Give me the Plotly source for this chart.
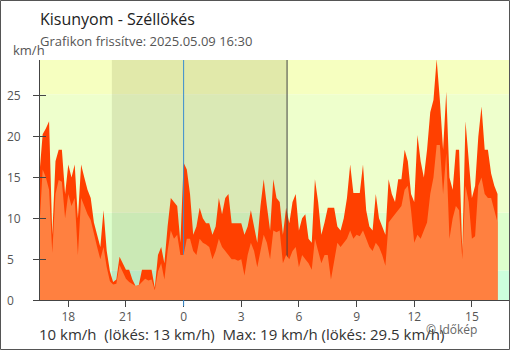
import pandas as pd
import plotly.graph_objects as go

# ---- data (10-minute readings, km/h) ----
START = "2025-05-08 16:30"
gust = [15.5, 20.3, 21.0, 21.9, 8.0, 17.0, 18.4, 18.4, 13.0, 16.6,
        15.0, 16.6, 10.0, 16.6, 15.0, 13.5, 12.5, 9.5, 8.0, 6.5,
        11.0, 6.0, 3.5, 2.2, 2.5, 5.3, 4.5, 3.7, 3.7, 2.5,
        1.7, 1.8, 3.7, 3.7, 3.7, 3.7, 1.5, 5.5, 6.5, 4.5,
        9.0, 12.5, 12.0, 11.5, 7.0, 16.8, 16.0, 13.0, 8.0, 9.0,
        11.3, 10.0, 9.4, 9.4, 8.0, 9.0, 12.5, 10.5, 12.5, 13.0,
        9.4, 9.4, 9.4, 9.4, 8.0, 9.0, 11.0, 9.0, 7.0, 11.5,
        14.8, 11.5, 8.5, 14.8, 12.5, 12.0, 8.0, 11.3, 9.4, 12.0,
        13.0, 8.5, 10.0, 10.5, 7.5, 7.0, 14.8, 12.0, 8.0, 9.5,
        11.3, 11.3, 11.3, 9.0, 8.5, 10.0, 12.5, 16.6, 13.1, 13.1,
        13.1, 16.6, 11.0, 9.0, 8.5, 13.0, 10.0, 9.0, 8.0, 14.8,
        13.0, 12.0, 14.8, 14.8, 18.4, 17.0, 13.0, 12.0, 20.2, 17.0,
        15.0, 18.4, 23.0, 24.5, 29.5, 24.5, 18.4, 25.5, 15.0, 13.5,
        18.4, 18.4, 6.0, 21.9, 17.0, 12.5, 14.0, 20.0, 23.7, 18.4,
        18.4, 15.5, 14.0, 13.0]
mean = [9.0, 16.0, 15.0, 13.5, 5.8, 13.0, 14.7, 14.5, 10.0, 13.0,
        11.5, 12.5, 5.5, 12.5, 11.5, 10.5, 9.8, 8.0, 6.5, 5.0,
        6.5, 4.0, 2.3, 1.9, 2.0, 4.3, 3.5, 2.6, 2.2, 2.0,
        1.7, 1.8, 2.2, 2.6, 2.4, 2.5, 1.2, 3.5, 4.5, 2.5,
        6.0, 8.5, 7.5, 8.0, 5.5, 5.5, 7.5, 7.5, 6.0, 5.5,
        7.5, 7.0, 6.8, 6.5, 5.0, 6.0, 7.5, 6.5, 6.0, 5.5,
        5.0, 5.0, 4.8, 5.0, 3.0, 5.5, 7.0, 6.0, 4.0, 6.0,
        8.0, 7.0, 5.0, 8.5, 8.3, 8.5, 4.5, 5.5, 5.0, 6.0,
        6.5, 4.0, 5.5, 5.0, 4.5, 3.7, 7.5, 6.0, 4.5, 5.5,
        5.5, 2.5, 5.0, 7.0, 6.5, 7.0, 7.5, 8.5, 7.5, 8.0,
        7.8, 8.5, 7.5, 6.5, 6.0, 7.0, 6.5, 5.5, 4.2, 9.5,
        10.0, 10.5, 11.0, 11.5, 13.5, 14.0, 11.0, 7.0, 8.0, 7.5,
        8.5, 9.5, 13.0, 15.0, 19.0, 19.0, 13.0, 18.0, 7.5, 10.0,
        11.5, 11.0, 5.0, 14.0, 12.0, 7.5, 7.8, 14.0, 15.0, 13.0,
        12.5, 12.5, 11.0, 9.5]
times = pd.date_range(START, periods=len(gust), freq="10min")

x_range = ["2025-05-08 16:31:40", "2025-05-09 16:55:50"]
y_max = 29.4
y_ticks = [0, 5, 10, 15, 20, 25]
x_tickvals = pd.date_range("2025-05-08 18:00", periods=8, freq="3h")
x_ticktext = ["18", "21", "0", "3", "6", "9", "12", "15"]

band_edges = [0, 3.6, 10.7, 25.2, 40]
band_colors = ["#ccffdd", "#ddffcc", "#eeffcc", "#f6ffc0"]
sunset = "2025-05-08 20:16"
sunrise = "2025-05-09 05:23"
midnight = "2025-05-09 00:00"

title = "Kisunyom - Széllökés"
subtitle = "Grafikon frissítve: 2025.05.09 16:30"
summary = "10 km/h\u00a0\u00a0(lökés: 13 km/h)\u00a0\u00a0Max: 19 km/h (lökés: 29.5 km/h)"
credit = "© Időkép"

W, H = 510, 350
ML, MR, MT, MB = 40, 1, 60, 50
PW, PH = W - ML - MR, H - MT - MB
FONT = "Open Sans"

fig = go.Figure()
fig.add_trace(go.Scatter(x=times, y=gust, mode="lines", line=dict(width=0, color="#ff4000"),
                         fill="tozeroy", fillcolor="#ff4000", hoverinfo="skip"))
fig.add_trace(go.Scatter(x=[midnight, midnight], y=[0, y_max], mode="lines",
                         line=dict(width=1, color="#3a8dd0"), hoverinfo="skip"))
fig.add_trace(go.Scatter(x=[sunrise, sunrise], y=[0, y_max], mode="lines",
                         line=dict(width=1, color="#444444"), hoverinfo="skip"))
fig.add_trace(go.Scatter(x=times, y=mean, mode="lines", line=dict(width=0, color="#ff8040"),
                         fill="tozeroy", fillcolor="#ff8040", hoverinfo="skip"))
fig.add_trace(go.Scatter(x=[times[0]], y=[0], yaxis="y2", mode="markers",
                         marker=dict(opacity=0), hoverinfo="skip"))

shapes = []
for i, c in enumerate(band_colors):
    shapes.append(dict(type="rect", xref="paper", yref="y", x0=0, x1=1,
                       y0=band_edges[i], y1=band_edges[i + 1], fillcolor=c,
                       line=dict(width=0), layer="below"))
shapes.append(dict(type="rect", xref="x", yref="paper", x0=sunset, x1=sunrise, y0=0, y1=1,
                   fillcolor="rgba(70,70,20,0.12)", line=dict(width=0), layer="below"))
shapes.append(dict(type="line", xref="x", yref="paper", x0=midnight, x1=midnight,
                   y0=-6 / PH, y1=0, line=dict(width=1, color="#3a8dd0"), layer="above"))
shapes.append(dict(type="rect", xref="paper", yref="paper",
                   x0=(-ML + 0.5) / PW, x1=(PW + MR - 0.5) / PW,
                   y0=(-MB + 0.5) / PH, y1=1 + (MT - 0.5) / PH,
                   line=dict(width=1, color="#555555"), fillcolor="rgba(0,0,0,0)", layer="above"))

ann = []
for v in y_ticks:
    ann.append(dict(text=str(v), xref="paper", yref="y", x=(5 - ML) / PW, y=v,
                    xanchor="left", yanchor="middle", showarrow=False,
                    font=dict(family=FONT, size=12, color="#555555")))
ann.append(dict(text="km/h", xref="paper", yref="paper", x=(11 - ML) / PW, y=1 + 10 / PH,
                xanchor="left", yanchor="middle", showarrow=False,
                font=dict(family=FONT, size=13, color="#555555")))
ann.append(dict(text=title, xref="paper", yref="paper", x=-2 / PW, y=1 + (MT - 19) / PH,
                xanchor="left", yanchor="middle", showarrow=False,
                font=dict(family=FONT, size=16, color="#222222")))
ann.append(dict(text=subtitle, xref="paper", yref="paper", x=-2 / PW, y=1 + (MT - 41) / PH,
                xanchor="left", yanchor="middle", showarrow=False,
                font=dict(family=FONT, size=13, color="#555555")))
ann.append(dict(text=summary, xref="paper", yref="paper", x=-3 / PW, y=-(334 - MT - PH) / PH,
                xanchor="left", yanchor="middle", showarrow=False,
                font=dict(family=FONT, size=15, color="#333333")))
ann.append(dict(text=credit, xref="paper", yref="paper", x=(424 - ML) / PW, y=-(329 - MT - PH) / PH,
                xanchor="left", yanchor="middle", showarrow=False,
                font=dict(family=FONT, size=12, color="#666666")))

fig.update_layout(
    width=W, height=H, margin=dict(l=ML, r=MR, t=MT, b=MB),
    paper_bgcolor="white", plot_bgcolor="white", showlegend=False,
    shapes=shapes, annotations=ann,
    xaxis=dict(range=x_range, type="date", tickvals=list(x_tickvals), ticktext=x_ticktext,
               showgrid=False, zeroline=False, showline=True, linecolor="#444444",
               ticks="outside", ticklen=6, tickcolor="#444444",
               tickfont=dict(family=FONT, size=12, color="#555555")),
    yaxis=dict(range=[0, y_max], showgrid=False, zeroline=False, showline=True,
               linecolor="#444444", ticks="outside", ticklen=6, tickcolor="#444444",
               tickvals=y_ticks, showticklabels=False, layer="below traces"),
    yaxis2=dict(range=[0, y_max], overlaying="y", showgrid=False, zeroline=False,
                showline=False, ticks="inside", ticklen=6, tickcolor="#444444",
                tickvals=y_ticks, showticklabels=False, side="left"),
)
fig.write_html("out.html")
